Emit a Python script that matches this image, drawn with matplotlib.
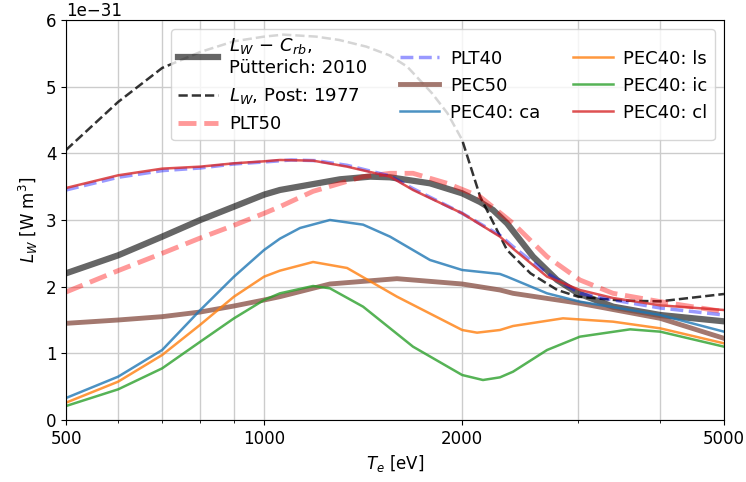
# Puissance rayonnée par le tungstène : comparaison des coefficients
import matplotlib.pyplot as plt
from matplotlib.ticker import FixedLocator, NullFormatter, ScalarFormatter

plt.rcParams['font.size'] = 12

# Post: 1977
te_post = [500, 600, 700, 800, 900, 1000, 1070, 1200, 1300, 1430, 1550, 1650, 1800, 1900, 2000, 2130, 2340, 2540, 2790, 3000, 3500, 4000, 5000]
lw_post = [4.05, 4.77, 5.28, 5.52, 5.68, 5.75, 5.78, 5.75, 5.70, 5.60, 5.47, 5.30, 4.90, 4.60, 4.2, 3.35, 2.55, 2.2, 1.95, 1.85, 1.79, 1.78, 1.89]

# Pütterich: 2010
te_putt = [500, 600, 700, 800, 900, 1000, 1057, 1304, 1450, 1554, 1787, 2000, 2129, 2228, 2340, 2563, 2788, 3000, 3391, 4000, 5000]
lw_putt = [2.2, 2.47, 2.75, 3.0, 3.2, 3.38, 3.45, 3.61, 3.65, 3.64, 3.55, 3.4, 3.27, 3.15, 2.95, 2.45, 2.1, 1.9, 1.7, 1.575, 1.48]

# ADAS
te_plt50 = [500, 600, 700, 800, 900, 1000, 1057, 1187, 1414, 1554, 1684, 1897, 2129, 2390, 2692, 3020, 3391, 4000, 5000]
plt50 = [1.92, 2.24, 2.5, 2.73, 2.92, 3.1, 3.2, 3.43, 3.65, 3.7, 3.7, 3.55, 3.35, 2.95, 2.45, 2.1, 1.9, 1.775, 1.625]

te_plt40 = [500, 600, 700, 800, 900, 1000, 1100, 1200, 1337, 1554, 1684, 2000, 2283, 2390, 2692, 3020, 3391, 4000, 5000]
plt40 = [3.45, 3.64, 3.74, 3.78, 3.84, 3.87, 3.9, 3.89, 3.82, 3.66, 3.47, 3.1, 2.77, 2.6, 2.2, 1.9, 1.8, 1.68, 1.575]

te_pec50 = [500, 600, 700, 800, 900, 1000, 1057, 1259, 1592, 2000, 2283, 2390, 3020, 4000, 5000]
pec50 = [1.45, 1.5, 1.55, 1.62, 1.71, 1.8, 1.85, 2.04, 2.12, 2.04, 1.95, 1.9, 1.75, 1.525, 1.225]

te_ca = [500, 600, 700, 800, 900, 1000, 1057, 1134, 1259, 1414, 1554, 1787, 2000, 2283, 2340, 2692, 3020, 4000, 5000]
pec40_ca = [0.33, 0.65, 1.05, 1.65, 2.15, 2.55, 2.72, 2.88, 3.0, 2.93, 2.75, 2.4, 2.25, 2.19, 2.15, 1.9, 1.775, 1.575, 1.325]

te_ls = [500, 600, 700, 800, 900, 1000, 1057, 1187, 1337, 1592, 2000, 2107, 2283, 2390, 2846, 3391, 4000, 5000]
pec40_ls = [0.26, 0.575, 0.975, 1.43, 1.85, 2.15, 2.24, 2.37, 2.28, 1.85, 1.35, 1.31, 1.35, 1.41, 1.525, 1.475, 1.375, 1.15]

te_ic = [500, 600, 700, 800, 900, 1000, 1057, 1187, 1259, 1414, 1684, 2000, 2151, 2283, 2390, 2692, 3020, 3600, 4000, 5000]
pec40_ic = [0.21, 0.46, 0.775, 1.175, 1.525, 1.8, 1.9, 2.01, 1.975, 1.7, 1.1, 0.675, 0.6, 0.64, 0.725, 1.05, 1.25, 1.36, 1.325, 1.1]

te_cl = [500, 600, 700, 800, 900, 1000, 1057, 1187, 1337, 1554, 1684, 2000, 2283, 2390, 2692, 3020, 3391, 4000, 5000]
pec40_cl = [3.48, 3.67, 3.77, 3.8, 3.85, 3.88, 3.9, 3.89, 3.8, 3.65, 3.45, 3.1, 2.75, 2.57, 2.15, 1.95, 1.83, 1.72, 1.65]

echelle = 1e-31


def sc(v):
    return [x * echelle for x in v]


fig = plt.figure(figsize=(7.46, 4.82), dpi=100)
ax = fig.add_axes([0.0885, 0.1286, 0.882, 0.83])

ax.plot(te_putt, sc(lw_putt), color='k', alpha=0.6, lw=4.5, label='$L_W\\,-\\,C_{rb}$,\nPütterich: 2010')
ax.plot(te_post, sc(lw_post), 'k--', alpha=0.8, lw=1.8, label='$L_W$, Post: 1977')
ax.plot(te_plt50, sc(plt50), '--', color='r', alpha=0.4, lw=3.5, label='PLT50')
ax.plot(te_plt40, sc(plt40), '--', color='b', alpha=0.4, lw=2.5, label='PLT40')
ax.plot(te_pec50, sc(pec50), color='C5', alpha=0.8, lw=3.5, label='PEC50')
ax.plot(te_ca, sc(pec40_ca), color='C0', alpha=0.8, lw=1.8, label='PEC40: ca')
ax.plot(te_ls, sc(pec40_ls), color='C1', alpha=0.8, lw=1.8, label='PEC40: ls')
ax.plot(te_ic, sc(pec40_ic), color='C2', alpha=0.8, lw=1.8, label='PEC40: ic')
ax.plot(te_cl, sc(pec40_cl), color='C3', alpha=0.8, lw=1.8, label='PEC40: cl')

ax.set_xscale('log')
ax.set_xlim(500, 5000)
ax.set_ylim(0, 6e-31)
ax.xaxis.set_major_locator(FixedLocator([500, 1000, 2000, 5000]))
ax.xaxis.set_major_formatter(ScalarFormatter())
ax.xaxis.set_minor_locator(FixedLocator([600, 700, 800, 900, 3000, 4000]))
ax.xaxis.set_minor_formatter(NullFormatter())
ax.grid(True, which='both', color='0.8', lw=1)

ax.set_xlabel('$T_e$ [eV]')
ax.set_ylabel('$L_W$ [W m$^3$]')
ax.legend(ncol=3, loc='upper right', fontsize=13, labelspacing=0.5,
          columnspacing=1.8, handlelength=2.2, handletextpad=0.6)

fig.savefig('out.png', dpi=100)
